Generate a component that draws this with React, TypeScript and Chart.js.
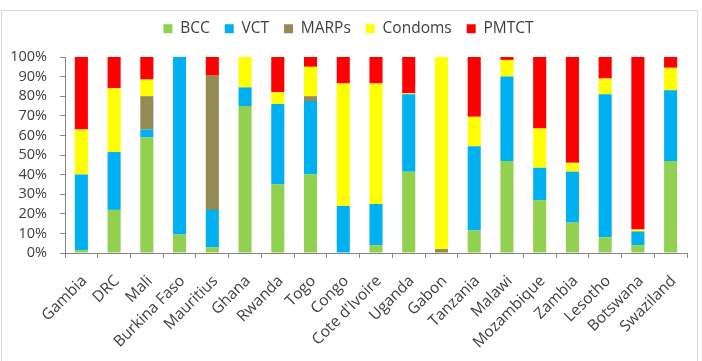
import React, { useEffect, useRef } from "react";
import { Chart, registerables } from "chart.js";

Chart.register(...registerables);

const countries = [
  "Gambia", "DRC", "Mali", "Burkina Faso", "Mauritius", "Ghana", "Rwanda", "Togo", "Congo",
  "Cote d'Ivoire", "Uganda", "Gabon", "Tanzania", "Malawi", "Mozambique", "Zambia", "Lesotho",
  "Botswana", "Swaziland",
];
const bcc = [1.5, 22, 59, 9.5, 3, 75, 35, 40, 0, 4, 41.5, 0, 11.5, 47, 27, 15.5, 8, 4, 47];
const vct = [38.5, 29.5, 4, 90.5, 19, 9.5, 41, 37.5, 24, 21, 39.5, 0, 43, 43, 16.5, 26, 73, 7, 36];
const marps = [0, 0, 17, 0, 68.5, 0, 0, 2.5, 0, 0, 0, 2, 0, 0, 0, 0, 0, 0, 0];
const condoms = [23, 32.5, 8.5, 0, 0, 15.5, 6, 15, 62.5, 61.5, 0.5, 98, 15, 8.5, 20, 4.5, 8, 1, 11.5];
const pmtct = [37, 16, 11.5, 0, 9.5, 0, 18, 5, 13.5, 13.5, 18.5, 0, 30.5, 1.5, 36.5, 54, 11, 88, 5.5];
const yTicks = [0, 10, 20, 30, 40, 50, 60, 70, 80, 90, 100];

const FONT = "'Open Sans', 'Liberation Sans', sans-serif";
const TEXT = "#404040";
const AXIS = "#868686";

const legendHeightPlugin = {
  id: "legendHeight",
  beforeLayout(chart: any) {
    const lg = chart.legend;
    if (lg && !lg.__patched) {
      const orig = lg.fit.bind(lg);
      lg.fit = () => {
        orig();
        lg.height = 51;
      };
      lg.__patched = true;
    }
  },
};

export default function App() {
  const ref = useRef<HTMLCanvasElement | null>(null);

  useEffect(() => {
    if (!ref.current) return;
    const mk = (label: string, data: number[], color: string) => ({
      label,
      data,
      backgroundColor: color,
      borderWidth: 0,
      categoryPercentage: 1,
      barPercentage: 0.4,
    });
    const chart = new Chart(ref.current, {
      type: "bar",
      data: {
        labels: countries,
        datasets: [
          mk("BCC", bcc, "#92D050"),
          mk("VCT", vct, "#00B0F0"),
          mk("MARPs", marps, "#948A54"),
          mk("Condoms", condoms, "#FFFF00"),
          mk("PMTCT", pmtct, "#FF0000"),
        ],
      },
      plugins: [legendHeightPlugin],
      options: {
        responsive: false,
        animation: false,
        layout: { padding: { left: 10, right: 15, top: 6, bottom: 0 } },
        plugins: {
          tooltip: { enabled: false },
          legend: {
            position: "top",
            labels: {
              boxWidth: 9,
              boxHeight: 9,
              padding: 15,
              color: TEXT,
              font: { family: FONT, size: 15.5 },
            },
          },
        },
        scales: {
          x: {
            stacked: true,
            grid: { display: true, drawOnChartArea: false, offset: true, tickLength: 5, color: AXIS },
            border: { display: true, color: AXIS },
            ticks: {
              color: TEXT,
              font: { family: FONT, size: 15.5 },
              maxRotation: 45,
              minRotation: 45,
              autoSkip: false,
              padding: 14,
              labelOffset: 3,
            },
            afterFit: (s: any) => {
              s.height = 108;
            },
          },
          y: {
            stacked: true,
            min: 0,
            max: 100,
            afterBuildTicks: (s: any) => {
              s.ticks = yTicks.map((v) => ({ value: v }));
            },
            grid: { display: true, drawOnChartArea: false, tickLength: 5, color: AXIS },
            border: { display: true, color: AXIS },
            ticks: {
              color: TEXT,
              font: { family: FONT, size: 14.5 },
              padding: 13,
              autoSkip: false,
              callback: (v: any) => v + "%",
            },
            afterFit: (s: any) => {
              s.width = 55;
            },
          },
        },
      },
    });
    return () => chart.destroy();
  }, []);

  return (
    <div style={{ position: "fixed", left: 0, top: 0, width: 702, height: 361, background: "#fff" }}>
      <div
        style={{
          position: "absolute",
          left: 1,
          top: 10,
          width: 697,
          height: 400,
          border: "1px solid #d9d9d9",
          boxSizing: "border-box",
        }}
      />
      <canvas ref={ref} width={702} height={361} style={{ position: "absolute", left: 0, top: 0 }} />
    </div>
  );
}
